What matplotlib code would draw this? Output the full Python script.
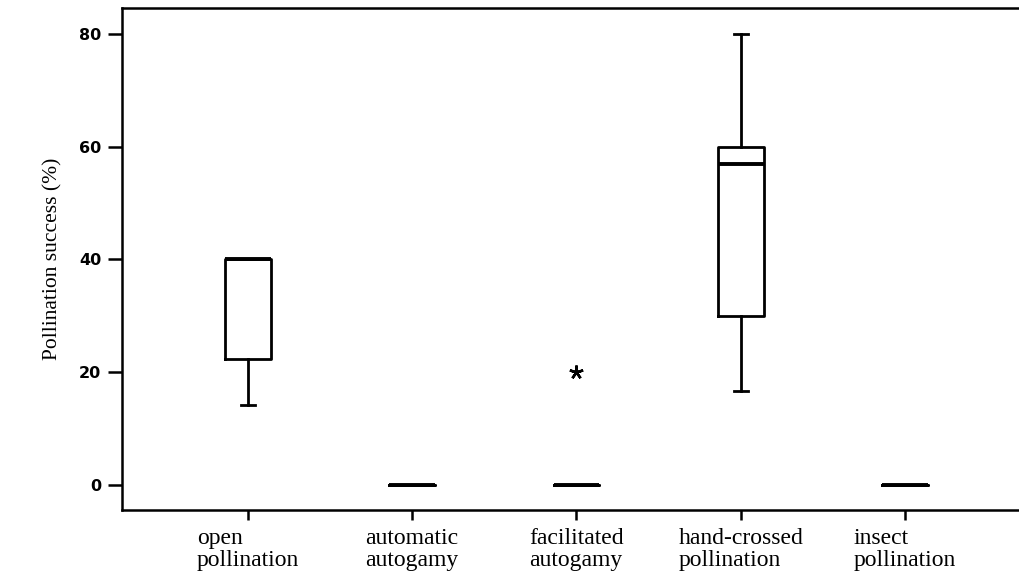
import numpy as np
import matplotlib.pyplot as plt

# Groups (x axis)
groups = ["open\npollination", "automatic\nautogamy", "facilitated\nautogamy",
          "hand-crossed\npollination", "insect\npollination"]

# Box statistics (pollination success, %)
q1 = [22.3, 0, 0, 30.0, 0]
med = [40.0, 0, 0, 57.0, 0]
q3 = [40.0, 0, 0, 60.0, 0]
whislo = [14.2, 0, 0, 16.7, 0]
whishi = [40.0, 0, 0, 80.0, 0]
fliers = [[], [], [20.0], [], []]

yticks = [0, 20, 40, 60, 80]

stats = []
for i in range(len(groups)):
    stats.append({"q1": q1[i], "med": med[i], "q3": q3[i],
                  "whislo": whislo[i], "whishi": whishi[i],
                  "fliers": fliers[i]})

fig = plt.figure(figsize=(10.2, 5.73), dpi=100)
ax = fig.add_axes([0.1196, 0.11, 0.8804, 0.876])

pos = np.arange(1, len(groups) + 1)
ax.bxp(stats, positions=pos, widths=0.28, capwidths=0.085,
       showfliers=True, patch_artist=False,
       boxprops=dict(color="black", linewidth=2.0),
       whiskerprops=dict(color="black", linewidth=2.0),
       capprops=dict(color="black", linewidth=2.0),
       medianprops=dict(color="black", linewidth=2.8, solid_capstyle="butt"),
       flierprops=dict(marker=(5, 2, 0), markersize=10, markeredgewidth=1.8,
                       markeredgecolor="black", markerfacecolor="black",
                       linestyle="none"))

ax.set_xlim(0.233, 5.70)
ax.set_ylim(-4.43, 84.6)

ax.set_yticks(yticks)
ax.set_yticklabels([str(v) for v in yticks], fontfamily="DejaVu Sans",
                   fontweight="bold", fontsize=11.5)
ax.set_xticks(pos)
ax.set_xticklabels(groups, fontfamily="Liberation Serif", fontsize=17,
                   multialignment="left", linespacing=1.05)

ax.tick_params(axis="y", length=10, width=1.8, pad=5)
ax.tick_params(axis="x", length=7, width=1.8, pad=6)

ax.spines["right"].set_visible(False)
for s in ["left", "top", "bottom"]:
    ax.spines[s].set_linewidth(1.8)

ax.set_ylabel("Pollination success (%)", fontfamily="Liberation Serif",
              fontsize=15.5, labelpad=12)

fig.savefig("out.png", dpi=100)
